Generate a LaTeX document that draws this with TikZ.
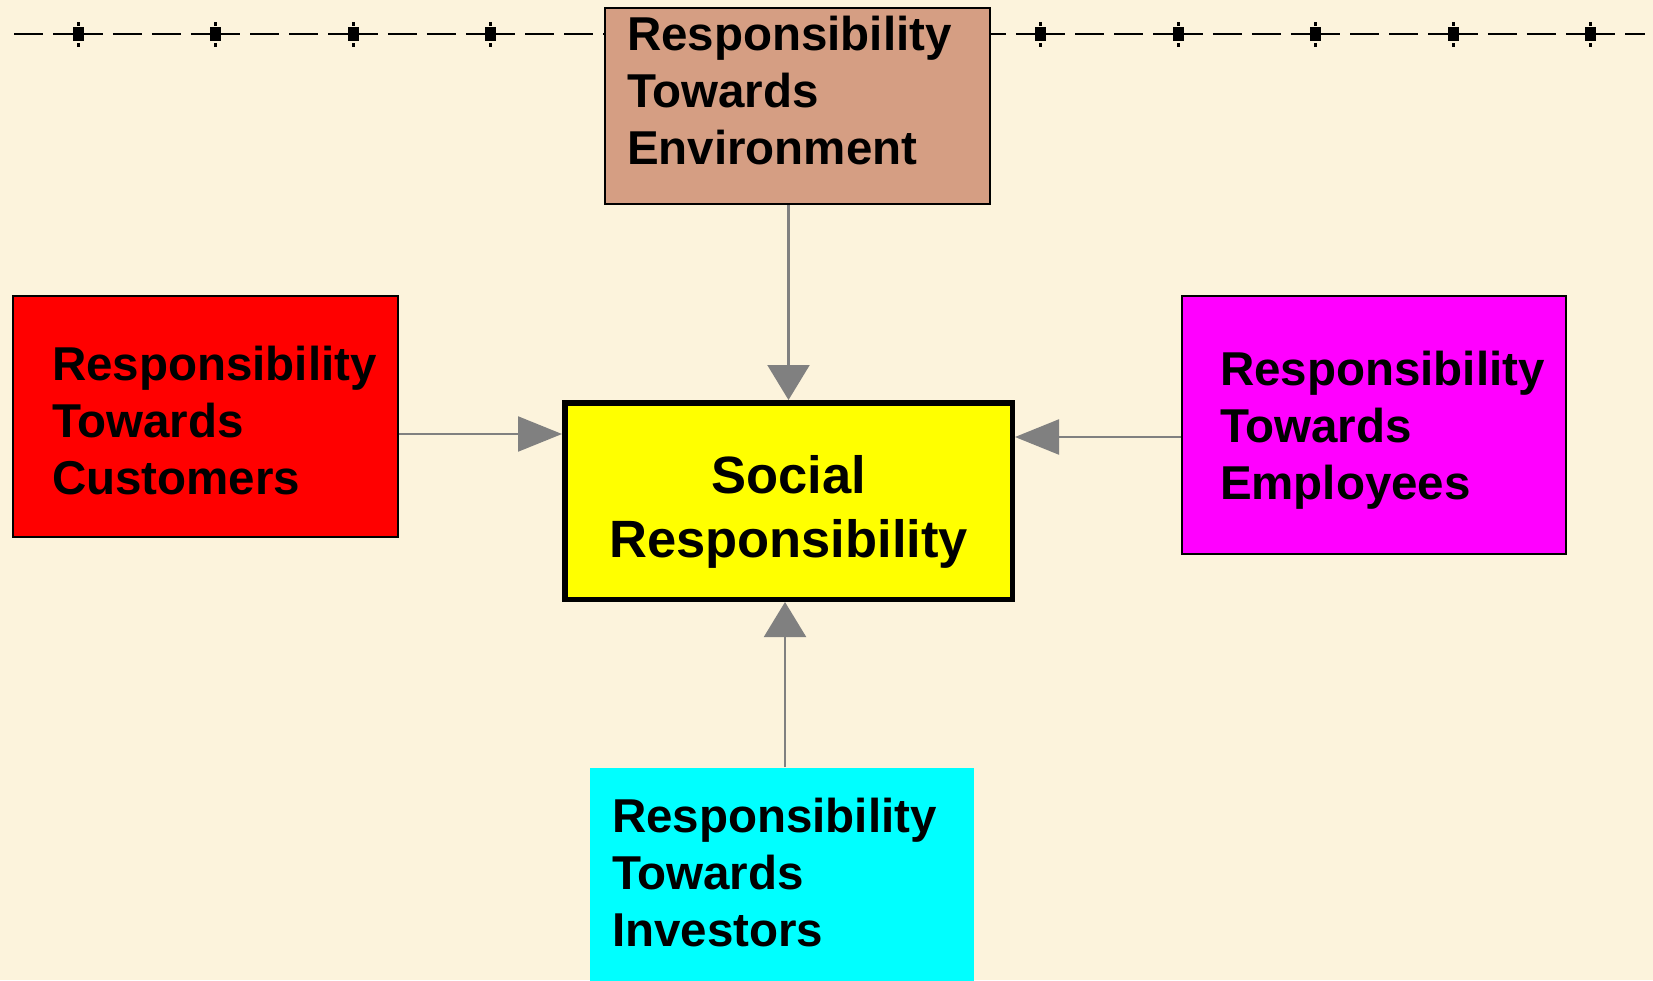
\documentclass[tikz,border=0pt]{standalone}
\usepackage{fontspec}
\setmainfont{Liberation Sans}
\usetikzlibrary{arrows.meta}
\definecolor{paper}{RGB}{252,243,220}
\definecolor{clay}{RGB}{213,158,131}
\definecolor{linkgray}{RGB}{128,128,128}
\definecolor{boxred}{RGB}{255,0,0}
\definecolor{boxyellow}{RGB}{255,255,0}
\definecolor{boxmagenta}{RGB}{255,0,255}
\definecolor{boxcyan}{RGB}{0,255,255}

\begin{document}
\begin{tikzpicture}[x=1pt, y=-1pt,
    rbox/.style={draw=black, line width=2pt, inner sep=0pt, align=left,
      font=\bfseries\fontsize{47.5}{57}\selectfont, text height=40pt},
    harrow/.style={draw=linkgray, line width=2.2pt, -{Triangle[length=44pt, width=35pt]}},
    varrow/.style={draw=linkgray, line width=2.2pt, -{Triangle[length=35pt, width=42pt]}}]
    \useasboundingbox (0, 0) rectangle (1653, 980);
    \fill[paper] (0, 0) rectangle (1653, 980);
    \clip (0, 0) rectangle (1653, 980);

    \draw[line width=2.6pt, dash pattern=on 49.5pt off 10pt on 29pt off 10pt on 29pt off 10pt, dash phase=98.25pt] (14, 34) -- (1645, 34);
    \foreach \k in {0, ..., 11} {
      \fill ({78 + 137.5*\k - 5.5}, 27) rectangle ++(11, 14);
      \fill ({78 + 137.5*\k - 1.5}, 22) rectangle ++(3, 3.5);
      \fill ({78 + 137.5*\k - 1.5}, 43) rectangle ++(3, 3.5);
    }

    \node[rbox, fill=clay, minimum width=385pt, minimum height=196pt, text width=341pt, text depth=152pt]
      (env) at (797.5, 106) {Responsibility\\Towards\\Environment};
    \node[rbox, fill=boxred, minimum width=385pt, minimum height=241pt, text width=307pt, text depth=113pt]
      (cust) at (205.5, 416.5) {Responsibility\\Towards\\Customers};
    \node[rbox, fill=boxmagenta, minimum width=384pt, minimum height=258pt, text width=308pt, text depth=120pt]
      (emp) at (1374, 425) {Responsibility\\Towards\\Employees};
    \node[rbox, draw=none, fill=boxcyan, minimum width=384pt, minimum height=242pt, text width=340pt, text depth=154pt]
      (inv) at (782, 889) {Responsibility\\Towards\\Investors};
    \node[draw=black, line width=5.5pt, fill=boxyellow, inner sep=0pt, align=center,
      font=\bfseries\fontsize{52.5}{64}\selectfont, text height=114pt, text depth=2pt,
      minimum width=447.5pt, minimum height=196.5pt]
      (social) at (788.5, 501) {Social\\Responsibility};

    \draw[varrow] (env.south -| social.north) -- (social.north);
    \coordinate (custout) at ([yshift=-17.5pt]cust.east);
    \draw[harrow] (custout) -- (custout -| social.west);
    \coordinate (empout) at ([yshift=-12pt]emp.west);
    \draw[harrow] (empout) -- (empout -| social.east);
    \coordinate (invout) at ([xshift=3pt]inv.north);
    \draw[varrow] (invout) -- (invout |- social.south);
\end{tikzpicture}
\end{document}
